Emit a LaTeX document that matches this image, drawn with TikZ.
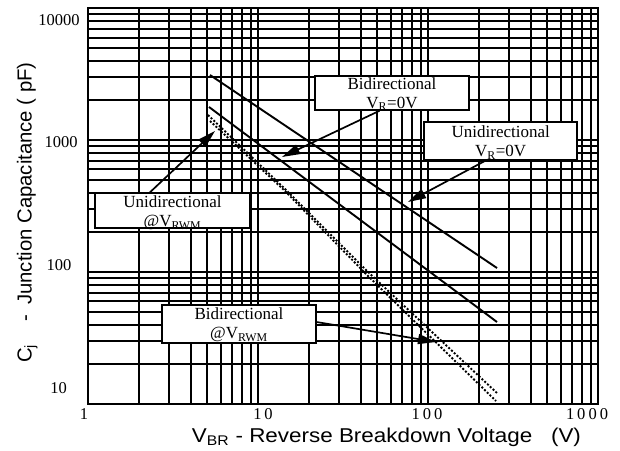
\documentclass[tikz,border=0pt]{standalone}
\usepackage{fontspec}
\setmainfont{Liberation Serif}
\newfontfamily\arialf{Liberation Sans}
\usetikzlibrary{arrows.meta,calc}
\newcommand{\digsp}{\kern3pt}
\begin{document}
\begin{tikzpicture}[x=1pt,y=-1pt,
  gridline/.style={line width=1.6pt, black},
  frameline/.style={line width=2pt, black},
  curve/.style={line width=1.9pt, black},
  dotcurve/.style={line width=1.9pt, black, dash pattern=on 2pt off 1.8pt},
  boxshape/.style={draw, fill=white, line width=1.5pt, inner sep=0pt},
  boxtext/.style={align=center, inner sep=0pt, font=\fontsize{17}{19}\selectfont},
  arr/.style={line width=1.7pt, -{Triangle[length=18pt,width=10pt]}},
  ticklbl/.style={font=\fontsize{16.5}{18}\selectfont, inner sep=0pt},
  axtitle/.style={font=\arialf\fontsize{20}{22}\selectfont, inner sep=0pt, anchor=base},
  ]
\useasboundingbox[fill=white] (0,0) rectangle (620,450);

% grid
\foreach \dec in {0,1,2}{
  \foreach \lg in {0,0.30103,0.47712,0.60206,0.69897,0.77815,0.84510,0.90309,0.95424}{
    \pgfmathsetmacro{\gx}{round(88.3+170*(\dec+\lg))}
    \pgfmathsetmacro{\gy}{round(404-131.9*(\dec+\lg))}
    \draw[gridline] (\gx,8) -- (\gx,404);
    \draw[gridline] (88,\gy) -- (598,\gy);
  }
}
\draw[frameline] (88,8) rectangle (598,404);

% tick labels
\node[ticklbl] (y4) at (59,20) {10000};
\node[ticklbl] (y3) at (61,142) {1000};
\node[ticklbl] (y2) at (59,265) {100};
\node[ticklbl] (y1) at (58.5,388) {10};
\node[ticklbl] (x0) at (84,414.5) {1};
\node[ticklbl] (x1) at (263,414.5) {1\digsp0};
\node[ticklbl] (x2) at (427,414.5) {1\digsp0\digsp0};
\node[ticklbl] (x3) at (587,414.5) {1\digsp0\digsp0\digsp0};

% axis titles
\node[axtitle] (xt) at (386.5,442.7) {\resizebox{389pt}{\height}{V\textsubscript{BR} - Reverse Breakdown Voltage \ \ (V)}};
\node[axtitle, anchor=base west, rotate=90, font=\arialf\fontsize{20.3}{22}\selectfont] (yt) at (31.5,363)
  {\makebox[41pt][l]{C\textsubscript{j}}\makebox[17pt][l]{-}Junction Capacitance ( pF)};

% curves
\draw[curve] (210,75) -- (497,268);
\draw[curve] (209,107) -- (497,322);
\draw[dotcurve] (208,115) -- (285,189) -- (367,271) -- (498,394);
\draw[dotcurve] (210,121) -- (285,191) -- (367,275) -- (496,401);

% label boxes
\node[boxshape, minimum width=154pt, minimum height=34pt] (b0) at (392,93) {};
\node[boxtext] (b0t) at (392,94) {Bidirectional\\V\textsubscript{R}=0V};
\node[boxshape, minimum width=153pt, minimum height=38pt] (u0) at (500.7,141) {};
\node[boxtext] (u0t) at (500.7,142.5) {Unidirectional\\V\textsubscript{R}=0V};
\node[boxshape, minimum width=155pt, minimum height=35pt] (urwm) at (172.5,210.7) {};
\node[boxtext] (urwmt) at (172.5,213) {Unidirectional\\@V\textsubscript{RWM}};
\node[boxshape, minimum width=154pt, minimum height=38pt] (brwm) at (239,324) {};
\node[boxtext] (brwmt) at (239,325) {Bidirectional\\@V\textsubscript{RWM}};

% arrows
\coordinate (t1) at (282,157);
\coordinate (t2) at (408,202);
\coordinate (t3) at (215,131);
\coordinate (t4) at (436,342);
\draw[arr] ($(b0.south west)!0.42!(b0.south east)$) -- (t1);
\draw[arr] ($(u0.south west)!0.40!(u0.south east)$) -- (t2);
\draw[arr] ($(urwm.north west)!0.355!(urwm.north east)$) -- (t3);
\draw[arr] ($(brwm.north east)!0.45!(brwm.south east)$) -- (t4);
\end{tikzpicture}
\end{document}
